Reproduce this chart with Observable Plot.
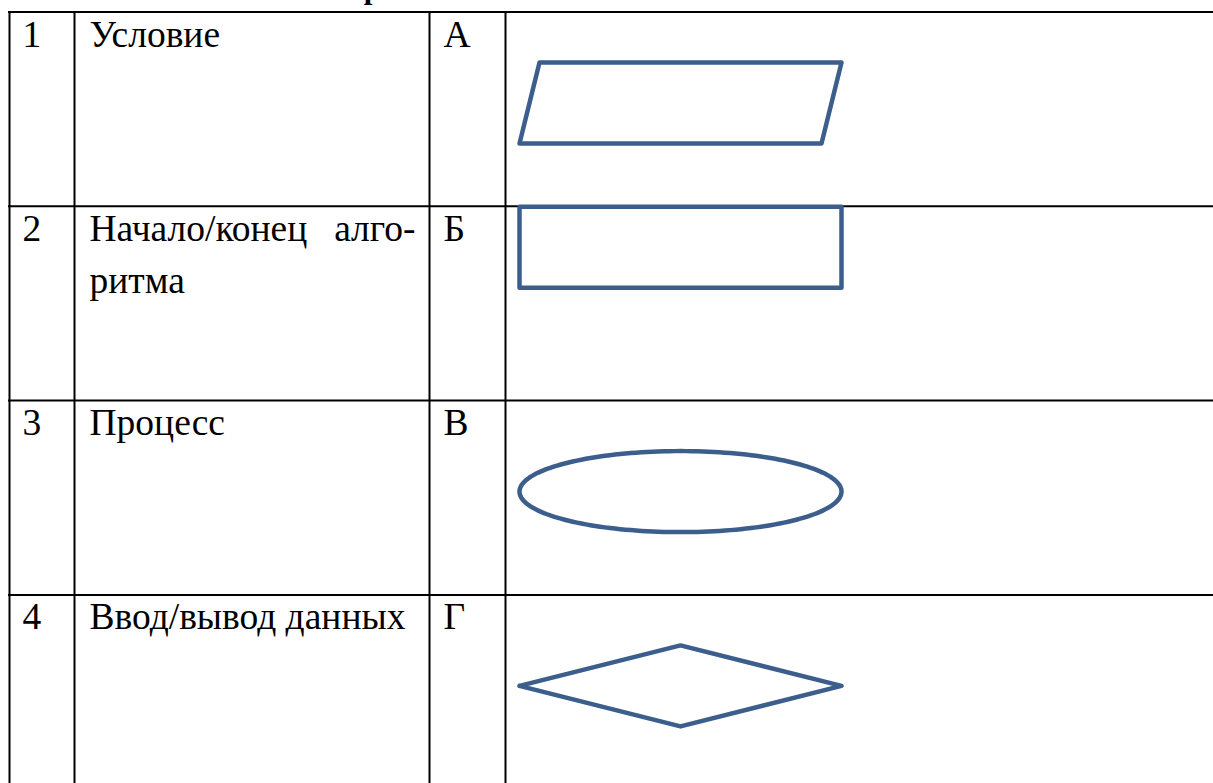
<!DOCTYPE html>
<html><head><meta charset="utf-8">
<script src="https://cdn.jsdelivr.net/npm/d3@7"></script>
<script src="https://cdn.jsdelivr.net/npm/@observablehq/plot@0.6"></script>
<style>html,body{margin:0;padding:0;background:#fff;overflow:hidden}</style>
</head><body><div id="chart"></div>
<script>
// ---- data ----
const titleText = "Вариант";
const rowNumbers = ["1", "2", "3", "4"];
const rowLabels = ["Условие", "Начало/конец алго-\nритма", "Процесс", "Ввод/вывод данных"];
const rowLetters = ["А", "Б", "В", "Г"];
const rowShapes = ["parallelogram", "rectangle", "ellipse", "diamond"];

// ---- layout ----
const W = 1213, H = 783;
const serif = "'Liberation Serif', 'Times New Roman', 'DejaVu Serif', serif";
const tableTop = 11.5, rowH = 194.3;
const colX = [9, 74, 429, 505];
const textPad = [13, 15, 14];
const labelRight = 415;
const baseOff = 34.5, lineGap = 52;
const fontSize = 37.5;
const shapeX0 = 519, shapeX1 = 841, shapeH = 81, slant = 20;
const shapeOffset = {rectangle: 0.5};
const shapeColor = "#3b5e8c";

const rowTop = i => tableTop + i * rowH;
const hLines = d3.range(rowNumbers.length).map(rowTop);

// text records
const texts = [];
rowNumbers.forEach((n, i) => texts.push({x: colX[0] + textPad[0], y: rowTop(i) + baseOff, t: n, a: "start"}));
rowLetters.forEach((l, i) => texts.push({x: colX[2] + textPad[2], y: rowTop(i) + baseOff, t: l, a: "start"}));
rowLabels.forEach((lab, i) => {
  const lines = lab.split("\n");
  lines.forEach((ln, k) => {
    const y = rowTop(i) + baseOff + k * lineGap;
    const x0 = colX[1] + textPad[1];
    if (k < lines.length - 1) {
      const words = ln.split(" ");
      texts.push({x: x0, y, t: words[0], a: "start"});
      texts.push({x: labelRight, y, t: words.slice(1).join(" "), a: "end"});
    } else {
      texts.push({x: x0, y, t: ln, a: "start"});
    }
  });
});

// shape outlines
const shapePts = [];
rowShapes.forEach((s, i) => {
  const top = rowTop(i) + (shapeOffset[s] ?? 50.5);
  const bot = top + shapeH, mid = (top + bot) / 2, cx = (shapeX0 + shapeX1) / 2;
  let pts;
  if (s === "parallelogram") pts = [[shapeX0 + slant, top], [shapeX1, top], [shapeX1 - slant, bot], [shapeX0, bot]];
  else if (s === "rectangle") pts = [[shapeX0, top], [shapeX1, top], [shapeX1, bot], [shapeX0, bot]];
  else if (s === "diamond") pts = [[shapeX0, mid], [cx, top], [shapeX1, mid], [cx, bot]];
  else {
    const rx = (shapeX1 - shapeX0) / 2, ry = shapeH / 2;
    pts = d3.range(0, 180).map(k => { const a = k / 180 * 2 * Math.PI; return [cx + rx * Math.cos(a), mid + ry * Math.sin(a)]; });
  }
  pts.push(pts[0]);
  pts.forEach(p => shapePts.push({x: p[0], y: p[1], s}));
});

const textOpts = {x: "x", y: "y", text: "t", lineAnchor: "bottom", fontSize, fontFamily: serif, fill: "black"};

const chart = Plot.plot({
  width: W, height: H, margin: 0,
  x: {type: "linear", domain: [0, W], range: [0, W], axis: null},
  y: {type: "linear", domain: [0, H], range: [0, H], axis: null},
  style: {background: "white", fontFamily: serif, overflow: "visible"},
  marks: [
    Plot.text([titleText], {x: () => 327, y: () => -2.5, text: d => d, textAnchor: "start", lineAnchor: "bottom", fontSize: 31, fontWeight: "bold", fontFamily: serif, fill: "black"}),
    Plot.ruleY(hLines, {y: d => d, x1: colX[0] - 1, x2: W + 10, stroke: "black", strokeWidth: 2}),
    Plot.ruleX(colX, {x: d => d, y1: tableTop, y2: H + 10, stroke: "black", strokeWidth: 2}),
    Plot.line(shapePts, {x: "x", y: "y", z: "s", stroke: shapeColor, strokeWidth: 4.5, strokeLinejoin: "round", strokeLinecap: "round"}),
    Plot.text(texts.filter(d => d.a === "start"), {...textOpts, textAnchor: "start"}),
    Plot.text(texts.filter(d => d.a === "end"), {...textOpts, textAnchor: "end"})
  ]
});
document.getElementById("chart").appendChild(chart);
</script>
</body></html>
